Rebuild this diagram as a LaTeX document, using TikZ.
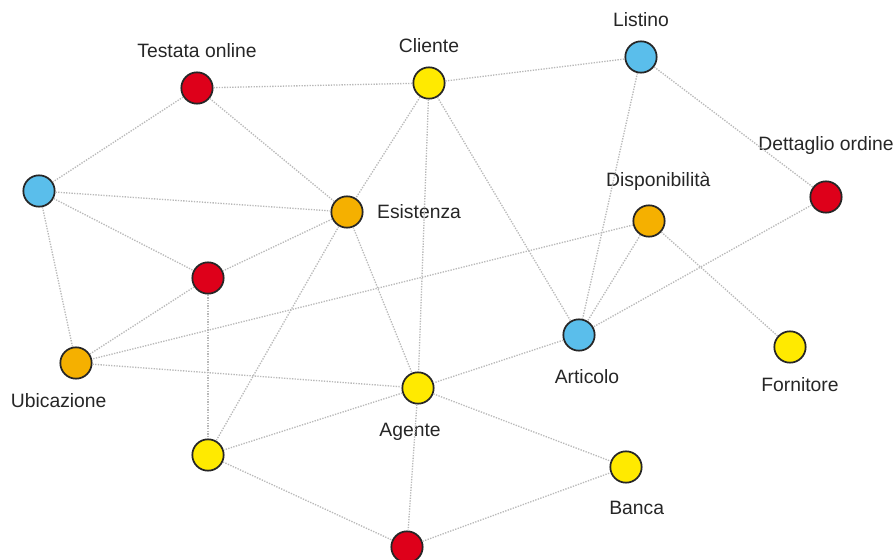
\documentclass[tikz,border=0pt]{standalone}
\usepackage{fontspec}
\setmainfont{Liberation Sans}

\definecolor{ered}{RGB}{222,0,26}
\definecolor{eyellow}{RGB}{255,234,0}
\definecolor{eorange}{RGB}{245,176,0}
\definecolor{eblue}{RGB}{90,190,235}

\tikzset{
  entity/.style={circle, draw=black!85, line width=1.3pt, minimum size=23.5pt, inner sep=0pt},
  link/.style={gray!55, line width=1pt, dash pattern=on 1pt off 1pt},
  every label/.style={font=\fontsize{14.5}{16}\selectfont, text=black!85, inner sep=1pt},
  label distance=9pt
}

\begin{document}
\begin{tikzpicture}[x=0.75pt,y=-0.75pt]
  \useasboundingbox (0,0) rectangle (894,560);

  % the entities
  \node[entity, fill=ered, label=above:Testata online] (testata) at (197,88) {};
  \node[entity, fill=eyellow, label=above:Cliente] (cliente) at (429,83) {};
  \node[entity, fill=eblue, label=above:Listino] (listino) at (641,57) {};
  \node[entity, fill=ered, label={[label distance=18pt]above:Dettaglio ordine}] (dettaglio) at (826,197) {};
  \node[entity, fill=eblue] (u1) at (39,191) {};
  \node[entity, fill=eorange, label=right:Esistenza] (esistenza) at (347,212) {};
  \node[entity, fill=eorange, label={[xshift=7pt]above:Disponibilità}] (disponibilita) at (649,221) {};
  \node[entity, fill=ered] (u2) at (208,278) {};
  \node[entity, fill=eorange, label={[xshift=-13pt]below:Ubicazione}] (ubicazione) at (76,363) {};
  \node[entity, fill=eblue, label={[xshift=6pt,label distance=12pt]below:Articolo}] (articolo) at (579,335) {};
  \node[entity, fill=eyellow, label={[xshift=7.5pt]below:Fornitore}] (fornitore) at (790,347) {};
  \node[entity, fill=eyellow, label={[xshift=-6pt,label distance=13pt]below:Agente}] (agente) at (418,388) {};
  \node[entity, fill=eyellow] (u3) at (208,455) {};
  \node[entity, fill=eyellow, label={[xshift=8pt,label distance=12pt]below:Banca}] (banca) at (626,467) {};
  \node[entity, fill=ered] (u4) at (407,547) {};

  % dotted links between entities
  \foreach \a/\b in {testata/cliente, cliente/listino, listino/dettaglio,
      testata/u1, testata/esistenza, u1/esistenza, u1/u2, u1/ubicazione,
      cliente/esistenza, cliente/agente, cliente/articolo,
      listino/articolo, dettaglio/articolo, disponibilita/articolo,
      disponibilita/fornitore, disponibilita/ubicazione,
      esistenza/u2, esistenza/agente, esistenza/u3,
      u2/ubicazione, u2/u3, ubicazione/agente, articolo/agente,
      agente/u3, agente/banca, agente/u4, u3/u4, u4/banca}
    \draw[link] (\a) -- (\b);
\end{tikzpicture}
\end{document}
